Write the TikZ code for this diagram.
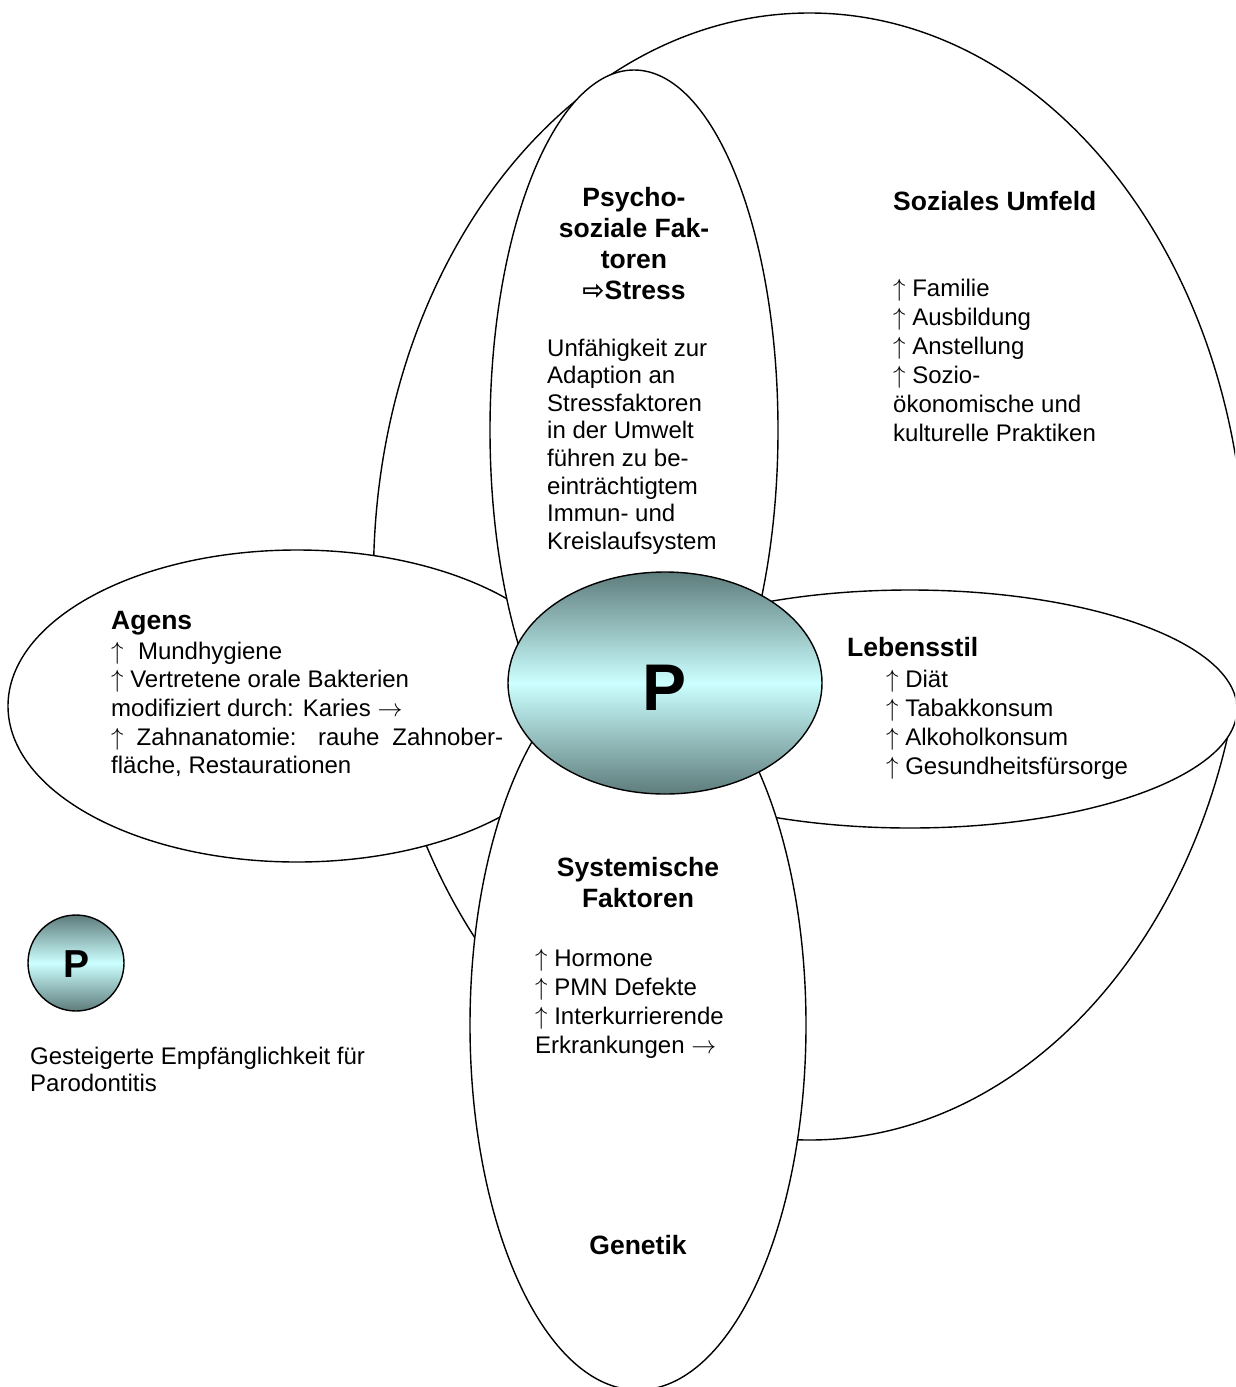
\documentclass[tikz,border=0pt]{standalone}
\usepackage{fontspec}
\setmainfont{Liberation Sans}
\newfontfamily\dejavu{DejaVu Sans}
\definecolor{tdark}{RGB}{94,124,124}
\definecolor{tlight}{RGB}{204,255,255}
\newcommand{\up}{$\uparrow$}
\newcommand{\ra}{$\rightarrow$}
\begin{document}
\begin{tikzpicture}[x=1pt,y=-1pt,
  bubble/.style={draw=black, line width=1.4pt, fill=white},
  core/.style={draw=black, line width=1.4pt, top color=tdark, bottom color=tdark, middle color=tlight},
  head/.style={font=\fontsize{26.5}{31}\selectfont\bfseries, inner sep=0pt},
  body/.style={font=\fontsize{24}{29}\selectfont, inner sep=0pt, align=left},
]
\useasboundingbox (0,0) rectangle (1235,1387);
\fill[white] (0,0) rectangle (1235,1387);
\begin{scope}
\clip (0,0) rectangle (1235,1387);
\path[bubble] (809.5,576.5) ellipse [x radius=436pt, y radius=563.5pt];
\path[bubble] (297,706) ellipse [x radius=289pt, y radius=156pt];
\path[bubble] (634,430) ellipse [x radius=144pt, y radius=360pt];
\path[bubble] (910,709) ellipse [x radius=327pt, y radius=119pt];
\path[bubble] (638,1025) ellipse [x radius=168pt, y radius=365pt];
\path[core] (665,683) ellipse [x radius=157pt, y radius=111pt];
\end{scope}
\node[font=\fontsize{66}{70}\selectfont\bfseries, inner sep=0pt] (pmain) at (665,688) {P};

% Psycho-soziale Faktoren (base anchor = last line)
\node[head, anchor=base, align=center] (psyh) at (634,299) {Psycho-\\soziale Fak-\\toren\\{\dejavu ⇨}Stress};
\node[body, font=\fontsize{24}{27.6}\selectfont, anchor=base west] (psyb) at (547,549.2) {Unfähigkeit zur\\Adaption an\\Stressfaktoren\\in der Umwelt\\führen zu be-\\einträchtigtem\\Immun- und\\Kreislaufsystem};

% Soziales Umfeld
\node[head, anchor=base west] (sozh) at (893,210) {Soziales Umfeld};
\node[body, anchor=base west] (sozb) at (893,441) {\up\ Familie\\\up\ Ausbildung\\\up\ Anstellung\\\up\ Sozio-\\ökonomische und\\kulturelle Praktiken};

% Agens
\node[head, anchor=base west] (agh) at (111,629) {Agens};
\node[body, font=\fontsize{24}{28.7}\selectfont, anchor=base west] (agb) at (111,773.8) {\up\hspace{0.6em}Mundhygiene\\\up\ Vertretene orale Bakterien\\modifiziert durch: Karies \ra\\\makebox[392pt][s]{\up\ Zahnanatomie: rauhe Zahnober-}\\fläche, Restaurationen};

% Lebensstil
\node[head, anchor=base west] (lebh) at (847,656) {Lebensstil};
\node[body, font=\fontsize{24}{29.3}\selectfont, anchor=base west] (lebb) at (886,774.9) {\up\ Diät\\\up\ Tabakkonsum\\\up\ Alkoholkonsum\\\up\ Gesundheitsfürsorge};

% Systemische Faktoren
\node[head, anchor=base, align=center] (sysh) at (638,907) {Systemische\\Faktoren};
\node[body, anchor=base west] (sysb) at (535,1053) {\up\ Hormone\\\up\ PMN Defekte\\\up\ Interkurrierende\\Erkrankungen \ra};
\node[head, anchor=base] (gen) at (638,1254) {Genetik};

% Legend
\path[core] (76,963) circle [radius=48pt];
\node[font=\fontsize{39}{42}\selectfont\bfseries, inner sep=0pt] (plegend) at (77,964) {P};
\node[body, font=\fontsize{24}{27}\selectfont, anchor=base west] (legtext) at (30,1091) {Gesteigerte Empfänglichkeit für\\Parodontitis};
\end{tikzpicture}
\end{document}
